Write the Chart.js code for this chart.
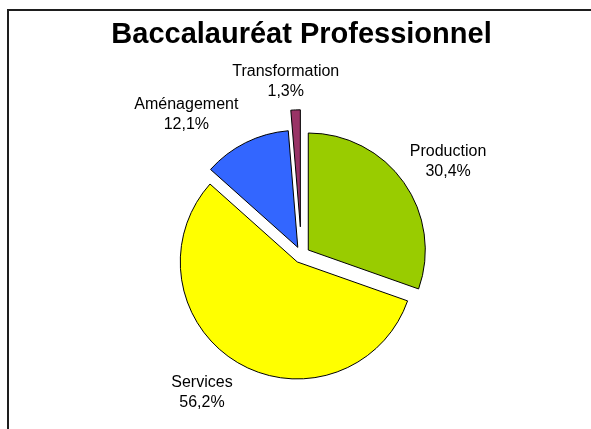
<!DOCTYPE html>
<html>
<head>
<meta charset="utf-8">
<script src="https://cdn.jsdelivr.net/npm/chart.js@4/dist/chart.umd.min.js"></script>
<style>
  html, body { margin: 0; padding: 0; background: #fff; overflow: hidden; }
  #wrap { position: relative; width: 591px; height: 429px; }
  #frame { position: absolute; left: 7px; top: 9px; width: 700px; height: 600px;
           border-left: 2px solid #1e1e1e; border-top: 2px solid #1e1e1e; }
  #c { position: absolute; left: 0; top: 0; }
</style>
</head>
<body>
<div id="wrap">
  <div id="frame"></div>
  <canvas id="c" width="591" height="429"></canvas>
</div>
<script>
// ---- data ----
const titleText = 'Baccalauréat Professionnel';
const categories = ['Production', 'Services', 'Aménagement', 'Transformation'];
const shares = [30.4, 56.2, 12.1, 1.3];

// ---- styles ----
const sliceColors = ['#99CC00', '#FFFF00', '#3366FF', '#993366'];
const explodePx = [8.3, 8.3, 8.3, 28];
const labelNudge = [[0, 0], [-12, -1], [-29, 4], [-7, 8]];
const labelFont = '16px "Liberation Sans", Arial, sans-serif';
const labelLineH = 20;
const labelGap = 16;

const fmt = v => v.toFixed(1).replace('.', ',') + '%';

// draw each slice translated outward along its mid-angle (exploded pie)
const explodePlugin = {
  id: 'explode',
  beforeDatasetDraw(chart, args) {
    const ctx = chart.ctx;
    args.meta.data.forEach((arc, i) => {
      const mid = (arc.startAngle + arc.endAngle) / 2;
      const e = explodePx[i] || 0;
      ctx.save();
      ctx.translate(Math.cos(mid) * e, Math.sin(mid) * e);
      arc.draw(ctx, chart.chartArea);
      ctx.restore();
    });
    return false;
  }
};

// category + percentage labels outside each slice
const labelPlugin = {
  id: 'outsideLabels',
  afterDatasetsDraw(chart) {
    const ctx = chart.ctx;
    const meta = chart.getDatasetMeta(0);
    ctx.save();
    ctx.font = labelFont;
    ctx.fillStyle = '#000';
    ctx.textAlign = 'center';
    ctx.textBaseline = 'middle';
    meta.data.forEach((arc, i) => {
      const mid = (arc.startAngle + arc.endAngle) / 2;
      const dx = Math.cos(mid), dy = Math.sin(mid);
      const lines = [categories[i], fmt(shares[i])];
      const w = Math.max(...lines.map(t => ctx.measureText(t).width));
      const h = lines.length * labelLineH;
      const dist = arc.outerRadius + (explodePx[i] || 0) + labelGap;
      const cx = arc.x + dx * dist + dx * w / 2 + labelNudge[i][0];
      const cy = arc.y + dy * dist + dy * h / 2 + labelNudge[i][1];
      lines.forEach((t, k) => {
        ctx.fillText(t, cx, cy - h / 2 + labelLineH * (k + 0.5));
      });
    });
    ctx.restore();
  }
};

new Chart(document.getElementById('c'), {
  type: 'pie',
  data: {
    labels: categories,
    datasets: [{
      data: shares,
      backgroundColor: sliceColors,
      borderColor: '#000',
      borderWidth: 1,
      radius: 117
    }]
  },
  options: {
    responsive: false,
    animation: false,
    layout: { padding: { left: 12, right: 0, top: 0, bottom: 0 } },
    plugins: {
      legend: { display: false },
      tooltip: { enabled: false },
      title: {
        display: true,
        text: titleText,
        color: '#000',
        font: { family: '"Liberation Sans", Arial, sans-serif', size: 29, weight: 'bold', lineHeight: 1.2 },
        padding: { top: 17.6, bottom: 28.2 }
      }
    }
  },
  plugins: [explodePlugin, labelPlugin]
});
</script>
</body>
</html>
